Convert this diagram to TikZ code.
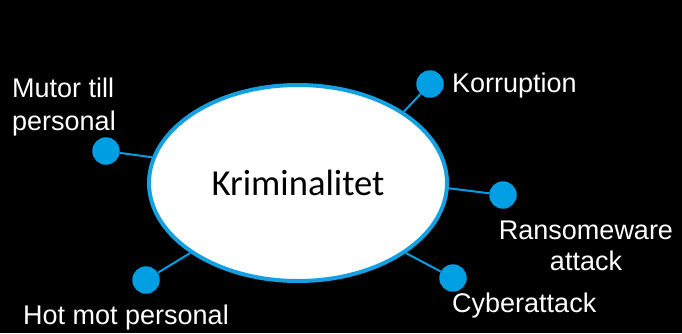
\documentclass[tikz,border=0pt]{standalone}
\usepackage{fontspec}
\setmainfont{Liberation Sans}
\newfontfamily\carlitofont{Carlito}
\usetikzlibrary{shapes.geometric}
\definecolor{bluedot}{RGB}{0,158,226}
\definecolor{blueline}{RGB}{20,160,225}
\begin{document}
\begin{tikzpicture}[x=1pt,y=-1pt,
  dot/.style={circle,fill=bluedot,draw=none,minimum size=27.5pt,inner sep=0pt},
  conn/.style={draw=bluedot,line width=2pt},
  lbl/.style={text=white,font=\fontsize{27}{33}\selectfont,inner sep=0pt},
  main/.style={ellipse,draw=blueline,line width=4pt,fill=white,minimum width=298pt,minimum height=196pt,inner sep=0pt,text=black,font=\carlitofont\fontsize{36.6}{40}\selectfont}]
\fill[black] (0,0) rectangle (682,333);
\useasboundingbox (0,0) rectangle (682,333);
\node[main] (E) at (298,183) {Kriminalitet};
\node[dot] (k) at (430,84) {};
\node[dot] (m) at (106,151) {};
\node[dot] (r) at (503,195) {};
\node[dot] (c) at (453,278) {};
\node[dot] (h) at (146,280) {};
\draw[conn] (k) -- (E.34);
\draw[conn] (m) -- (E.170);
\draw[conn] (r) -- (E.-2);
\draw[conn] (c) -- (E.-33);
\draw[conn] (h) -- (E.213.5);
\node[lbl,anchor=base west] (tk) at (452,92) {Korruption};
\node[lbl,anchor=base west,align=left] (tm) at (12,130) {Mutor till\\personal};
\node[lbl,anchor=base,align=center,font=\fontsize{27}{31}\selectfont] (tr) at (586,270) {Ransomeware\\attack};
\node[lbl,anchor=base west] (tc) at (452,312) {Cyberattack};
\node[lbl,anchor=base west] (th) at (23,324) {Hot mot personal};
\end{tikzpicture}
\end{document}
